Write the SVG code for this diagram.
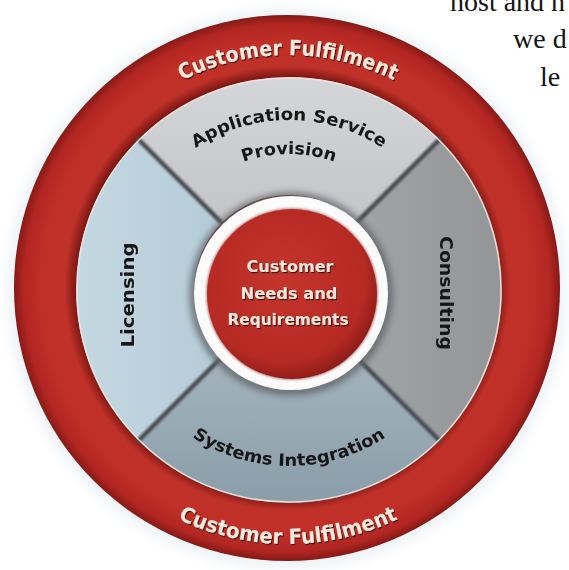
<svg xmlns="http://www.w3.org/2000/svg" width="569" height="570" viewBox="0 0 569 570">
<style>
.ring-txt{font-family:"DejaVu Sans","Liberation Sans",sans-serif;font-weight:bold;font-size:21px;fill:#f6e8dd;filter:url(#lightTxt)}
.core-txt{font-family:"DejaVu Sans","Liberation Sans",sans-serif;font-weight:bold;font-size:16px;fill:#f6e6da;filter:url(#lightTxt);text-anchor:middle}
.seg-txt{font-family:"DejaVu Sans","Liberation Sans",sans-serif;font-weight:bold;font-size:17px;fill:#161616;filter:url(#darkTxt)}
.page-txt{font-family:"Liberation Serif","DejaVu Serif",serif;font-size:28px;fill:#141414}
.divider{stroke:#4c5054;stroke-width:4.5;stroke-linecap:round;filter:url(#soft)}
</style>
<defs>
<radialGradient id="redRing" cx="287" cy="288" r="273" gradientUnits="userSpaceOnUse">
<stop offset="0.77" stop-color="#7a1511"/>
<stop offset="0.815" stop-color="#bf3129"/>
<stop offset="0.9" stop-color="#c12f28"/>
<stop offset="0.965" stop-color="#b22622"/>
<stop offset="1" stop-color="#861a16"/>
</radialGradient>
<radialGradient id="redCore" cx="0.45" cy="0.42" r="0.6">
<stop offset="0" stop-color="#c4352c"/>
<stop offset="0.8" stop-color="#b62a24"/>
<stop offset="1" stop-color="#8a1c17"/>
</radialGradient>
<linearGradient id="gTop" x1="0" y1="0" x2="0" y2="1">
<stop offset="0" stop-color="#d4d6d9"/><stop offset="1" stop-color="#c2c4c7"/>
</linearGradient>
<linearGradient id="gLeft" x1="0" y1="0" x2="1" y2="0">
<stop offset="0" stop-color="#c4d8e1"/><stop offset="1" stop-color="#b4cbd6"/>
</linearGradient>
<linearGradient id="gRight" x1="0" y1="0" x2="1" y2="0">
<stop offset="0" stop-color="#a1a3a5"/><stop offset="1" stop-color="#939597"/>
</linearGradient>
<linearGradient id="gBot" x1="0" y1="0" x2="0" y2="1">
<stop offset="0" stop-color="#a3b4bd"/><stop offset="1" stop-color="#8a9da8"/>
</linearGradient>
<filter id="halo" x="-20%" y="-20%" width="140%" height="140%"><feGaussianBlur stdDeviation="6"/></filter>
<filter id="blur3" x="-20%" y="-20%" width="140%" height="140%"><feGaussianBlur stdDeviation="3"/></filter>
<filter id="soft" x="-20%" y="-20%" width="140%" height="140%"><feGaussianBlur stdDeviation="0.8"/></filter>
<filter id="lightTxt" x="-10%" y="-30%" width="120%" height="160%"><feDropShadow dx="1" dy="1.2" stdDeviation="0.7" flood-color="#3a0705" flood-opacity="0.95"/></filter>
<filter id="darkTxt" x="-10%" y="-30%" width="120%" height="160%"><feGaussianBlur stdDeviation="0.35"/></filter>
<path id="p-ring-top" d="M54,289 A234,234 0 0 1 522,289"/>
<path id="p-ring-bot" d="M33,289 A255,255 0 0 0 543,289"/>
<path id="p-asp1" d="M119,290 A170,170 0 0 1 459,290"/>
<path id="p-asp2" d="M153,290 A136,136 0 0 1 425,290"/>
<path id="p-si" d="M113,290 A176,176 0 0 0 465,290"/>
</defs>
<rect width="569" height="570" fill="#ffffff"/>
<circle cx="287" cy="289" r="280" fill="#e6eef3" opacity="0.7" filter="url(#halo)"/>

<g id="customer-fulfilment">
<circle cx="287" cy="288" r="273" fill="url(#redRing)"/>
<text class="ring-txt"><textPath href="#p-ring-top" startOffset="50%" text-anchor="middle" textLength="220" lengthAdjust="spacingAndGlyphs">Customer Fulfilment</textPath></text>
<text class="ring-txt"><textPath href="#p-ring-bot" startOffset="50%" text-anchor="middle" textLength="228" lengthAdjust="spacingAndGlyphs">Customer Fulfilment</textPath></text>
</g>

<g id="application-service-provision">
<path d="M138.4,139.4 A213,213 0 0 1 439.6,139.4 L356.2,222.8 A95,95 0 0 0 221.8,222.8 Z" fill="url(#gTop)"/>
<text class="seg-txt"><textPath href="#p-asp1" startOffset="50%" text-anchor="middle" textLength="198" lengthAdjust="spacingAndGlyphs">Application Service</textPath></text>
<text class="seg-txt"><textPath href="#p-asp2" startOffset="50%" text-anchor="middle" textLength="93" lengthAdjust="spacingAndGlyphs">Provision</textPath></text>
</g>

<g id="consulting">
<path d="M439.6,139.4 A213,213 0 0 1 439.6,440.6 L356.2,357.2 A95,95 0 0 0 356.2,222.8 Z" fill="url(#gRight)"/>
<text class="seg-txt" transform="translate(440,293) rotate(90)" text-anchor="middle" textLength="114" lengthAdjust="spacingAndGlyphs">Consulting</text>
</g>

<g id="systems-integration">
<path d="M439.6,440.6 A213,213 0 0 1 138.4,440.6 L221.8,357.2 A95,95 0 0 0 356.2,357.2 Z" fill="url(#gBot)"/>
<text class="seg-txt"><textPath href="#p-si" startOffset="50%" text-anchor="middle" textLength="205" lengthAdjust="spacingAndGlyphs">Systems Integration</textPath></text>
</g>

<g id="licensing">
<path d="M138.4,440.6 A213,213 0 0 1 138.4,139.4 L221.8,222.8 A95,95 0 0 0 221.8,357.2 Z" fill="url(#gLeft)"/>
<text class="seg-txt" transform="translate(134,295) rotate(-90)" text-anchor="middle" textLength="105" lengthAdjust="spacingAndGlyphs">Licensing</text>
</g>

<g id="dividers">
<line class="divider" x1="138.4" y1="139.4" x2="221.8" y2="222.8"/>
<line class="divider" x1="439.6" y1="139.4" x2="356.2" y2="222.8"/>
<line class="divider" x1="439.6" y1="440.6" x2="356.2" y2="357.2"/>
<line class="divider" x1="138.4" y1="440.6" x2="221.8" y2="357.2"/>
<circle cx="289" cy="290" r="212" fill="none" stroke="#f1e2da" stroke-width="1.5" opacity="0.9"/>
</g>

<g id="customer-needs">
<circle cx="291" cy="294" r="102" fill="#5f6367" opacity="0.75" filter="url(#blur3)"/>
<circle cx="291" cy="293" r="97" fill="#fbfbfb"/>
<circle cx="292" cy="294" r="86" fill="#7a1713" opacity="0.5" filter="url(#soft)"/>
<circle cx="292" cy="294" r="85" fill="url(#redCore)"/>
<text class="core-txt" x="290" y="272" textLength="87" lengthAdjust="spacingAndGlyphs">Customer</text>
<text class="core-txt" x="289" y="299" textLength="97" lengthAdjust="spacingAndGlyphs">Needs and</text>
<text class="core-txt" x="288" y="325" textLength="121" lengthAdjust="spacingAndGlyphs">Requirements</text>
</g>

<g id="page-text">
<text class="page-txt" x="450" y="11">host and n</text>
<text class="page-txt" x="513" y="48">we d</text>
<text class="page-txt" x="540" y="86">le</text>
</g>
</svg>
